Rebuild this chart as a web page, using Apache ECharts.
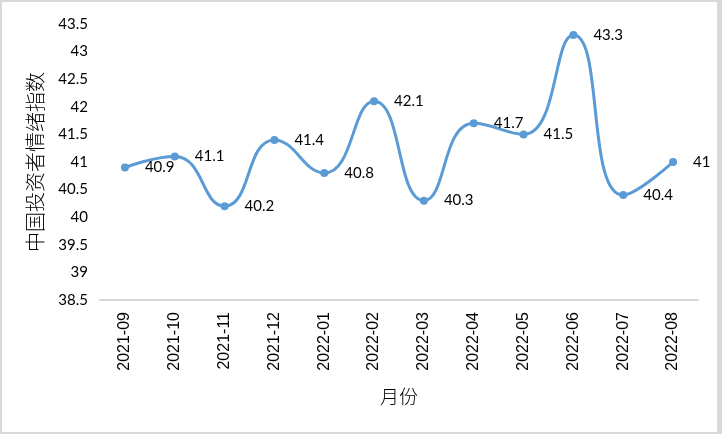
<!DOCTYPE html>
<html><head><meta charset="utf-8">
<script src="https://cdn.jsdelivr.net/npm/echarts@6/dist/echarts.min.js"></script>
<style>html,body{margin:0;padding:0;background:#fff}#c{width:722px;height:434px}</style>
</head><body><div id="c"></div>
<script>
const categories = ['2021-09','2021-10','2021-11','2021-12','2022-01','2022-02','2022-03','2022-04','2022-05','2022-06','2022-07','2022-08'];
const sentiment = [40.9, 41.1, 40.2, 41.4, 40.8, 42.1, 40.3, 41.7, 41.5, 43.3, 40.4, 41.0];
const yName = '中国投资者情绪指数';
const xName = '月份';

const chart = echarts.init(document.getElementById('c'));
chart.setOption({
  animation: false,
  backgroundColor: '#fff',
  graphic: [
    {type:'rect', shape:{x:0,y:0,width:2,height:434}, style:{fill:'#d9d9d9'}},
    {type:'rect', shape:{x:0,y:0,width:722,height:2}, style:{fill:'#d9d9d9'}},
    {type:'rect', shape:{x:0,y:432,width:722,height:2}, style:{fill:'#d9d9d9'}},
    {type:'rect', shape:{x:717,y:0,width:5,height:434}, style:{fill:'#d9d9d9'}}
  ],
  grid: {left: 100, right: 24, top: 24, bottom: 134},
  xAxis: {
    type: 'category',
    data: categories,
    boundaryGap: true,
    axisLine: {lineStyle: {color: '#d9d9d9', width: 2}},
    axisTick: {show: false},
    axisLabel: {rotate: 90, margin: 12, color: '#000', fontSize: 16, fontFamily: 'Liberation Sans'},
    name: xName,
    nameLocation: 'middle',
    nameGap: 87,
    nameTextStyle: {color: '#000', fontSize: 19, fontFamily: 'Noto Sans CJK SC', fontWeight: 300}
  },
  yAxis: {
    type: 'value',
    min: 38.5, max: 43.5, interval: 0.5,
    splitLine: {show: false},
    axisLine: {show: false},
    axisTick: {show: false},
    axisLabel: {margin: 12, color: '#000', fontSize: 15, fontFamily: 'Lato'},
    name: yName,
    nameLocation: 'middle',
    nameRotate: 90,
    nameGap: 55,
    nameTextStyle: {color: '#000', fontSize: 20, fontFamily: 'Noto Sans CJK SC', fontWeight: 300}
  },
  series: [{
    type: 'line',
    data: sentiment,
    smooth: 0.5,
    symbol: 'circle',
    symbolSize: 8,
    lineStyle: {color: '#5B9BD5', width: 3},
    itemStyle: {color: '#5B9BD5'},
    label: {show: true, position: 'right', distance: 16, color: '#000', fontSize: 15, fontFamily: 'Lato'}
  }]
});
</script></body></html>
